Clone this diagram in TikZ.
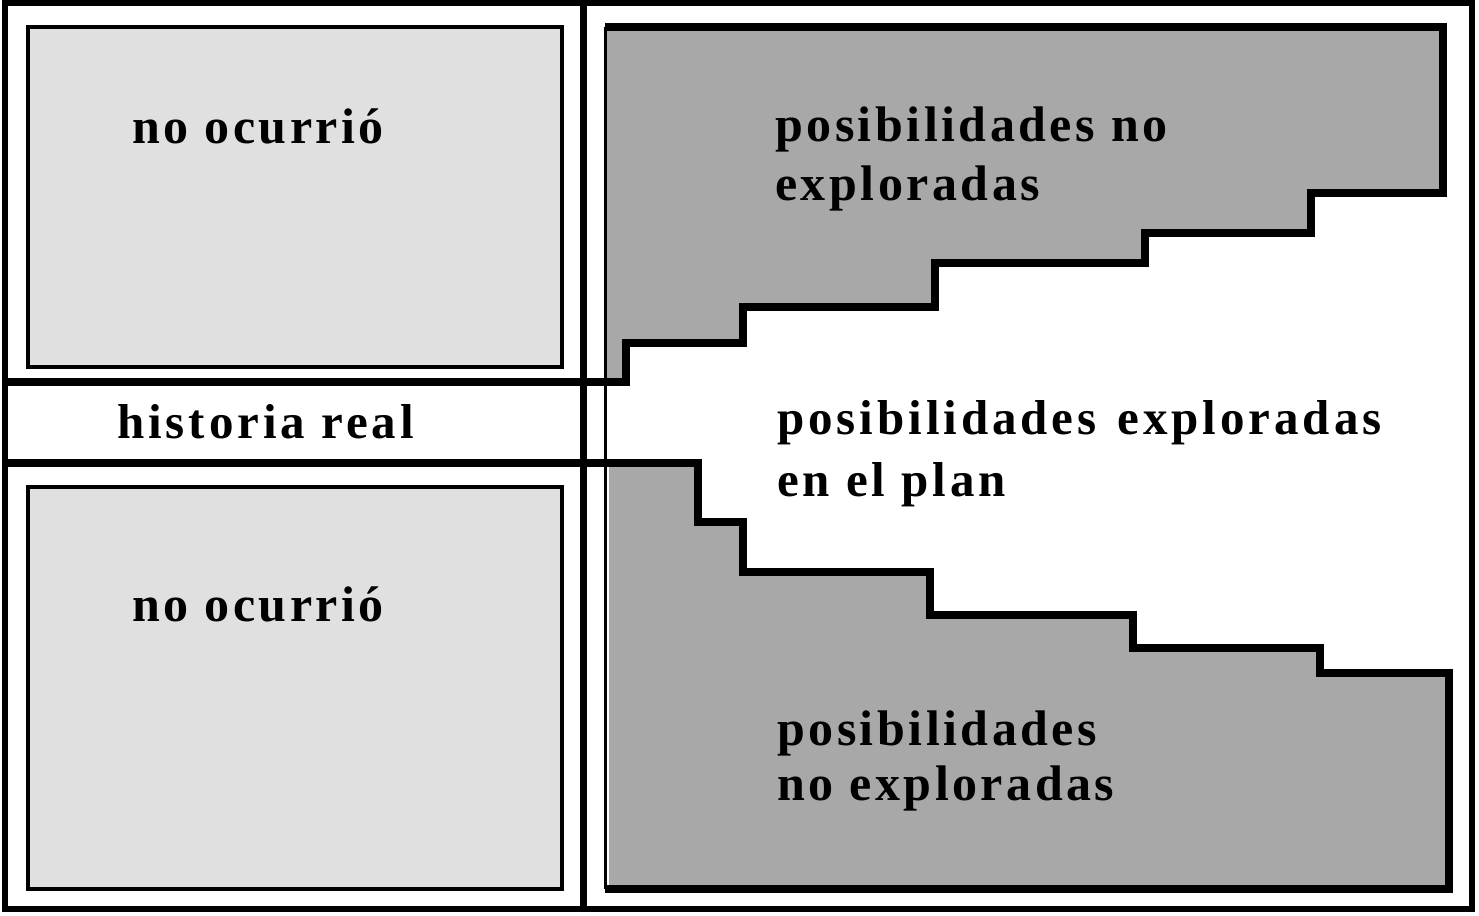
\documentclass[tikz,border=0pt]{standalone}
\usepackage{fontspec}
\setmainfont{Liberation Serif}
\definecolor{lightstip}{gray}{0.88}
\definecolor{darkstip}{gray}{0.66}
\begin{document}
\begin{tikzpicture}[x=1pt,y=-1pt,
  frame/.style={line width=6pt},
  boxline/.style={line width=4pt},
  stair/.style={line width=8pt,line join=miter},
  thinline/.style={line width=3pt},
  lbl/.style={anchor=base west,inner sep=0pt,
    font=\fontsize{50}{58}\selectfont\bfseries\addfontfeature{LetterSpace=7}},
  wlbl/.style={anchor=base west,inner sep=0pt,
    font=\fontsize{49}{56}\selectfont\bfseries\addfontfeature{LetterSpace=8}}]
\useasboundingbox (0,0) rectangle (1479,915);
% fills
\fill[lightstip] (28,27) rectangle (562,367);
\fill[lightstip] (28,487) rectangle (562,889);
\fill[darkstip] (607,27) -- (1443,27) -- (1443,193) -- (1311,193) -- (1311,233)
  -- (1145,233) -- (1145,263) -- (935,263) -- (935,307) -- (743,307) -- (743,343)
  -- (626,343) -- (626,382) -- (607,382) -- cycle;
\fill[darkstip] (609,467) -- (698,467) -- (698,522) -- (743,522) -- (743,572)
  -- (930,572) -- (930,615) -- (1133,615) -- (1133,648) -- (1320,648) -- (1320,673)
  -- (1449,673) -- (1449,889) -- (609,889) -- cycle;
% outer frame and divider
\draw[frame] (5,3) rectangle (1472,909);
\draw[line width=7pt] (583,3) -- (583,909);
% left boxes
\draw[boxline] (28,27) rectangle (562,367);
\draw[boxline] (28,487) rectangle (562,889);
% band lines and staircases
\draw[stair] (5,382) -- (626,382) -- (626,343) -- (743,343) -- (743,307) -- (935,307)
  -- (935,263) -- (1145,263) -- (1145,233) -- (1311,233) -- (1311,193) -- (1443,193)
  -- (1443,27) -- (605,27);
\draw[stair] (5,463) -- (698,463) -- (698,522) -- (743,522) -- (743,572) -- (930,572)
  -- (930,615) -- (1133,615) -- (1133,648) -- (1320,648) -- (1320,673) -- (1449,673)
  -- (1449,889) -- (605,889);
\draw[thinline] (605,27) -- (605,889);
% labels
\node[lbl] (n1) at (132,143) {no ocurrió};
\node[lbl] (n2) at (132,621) {no ocurrió};
\node[wlbl] (h) at (117,438) {historia real};
\node[lbl] (p1) at (775,142) {posibilidades no};
\node[lbl] (p1b) at (775,200) {exploradas};
\node[wlbl] (pe) at (777,434) {posibilidades\hspace{0.1em} exploradas};
\node[wlbl] (pe2) at (777,496) {en el plan};
\node[lbl] (p2) at (777,745) {posibilidades};
\node[lbl] (p2b) at (777,800) {no exploradas};
\end{tikzpicture}
\end{document}
